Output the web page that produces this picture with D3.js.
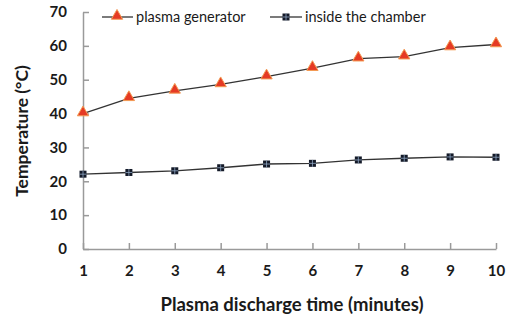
<!DOCTYPE html>
<html>
<head>
<meta charset="utf-8">
<script src="https://cdn.jsdelivr.net/npm/d3@7"></script>
<style>
body{margin:0;background:#fff;}
text{font-family:Lato,"Open Sans",sans-serif;fill:#1a1a1a;}
.tick text{font-weight:bold;font-size:15px;}
.axis path,.axis line{stroke:#9a9a9a;stroke-width:1.5;}
</style>
</head>
<body>
<svg id="chart" width="507" height="319"></svg>
<script>
var minutes = [1,2,3,4,5,6,7,8,9,10]
var plasmaGenerator = [40.0,44.5,46.7,48.6,50.9,53.4,56.2,56.8,59.5,60.4]
var insideChamber = [22.1,22.6,23.1,24.0,25.1,25.3,26.3,26.8,27.2,27.1]
var yTicks = [0,10,20,30,40,50,60,70]
var seriesNames = ["plasma generator","inside the chamber"]

var svg = d3.select("#chart")
var xScale = d3.scaleLinear().domain([1,10]).range([83,496])
var yScale = d3.scaleLinear().domain([0,70]).range([249,12])

// axes, ticks pointing into the plot
var xAxis = d3.axisBottom(xScale).tickValues(minutes).tickSizeInner(-6).tickSizeOuter(0).tickPadding(16)
svg.append("g").attr("class","axis").attr("transform","translate(0,249)").call(xAxis)

var yAxis = d3.axisLeft(yScale).tickValues(yTicks).tickSizeInner(-6).tickSizeOuter(0).tickPadding(16)
svg.append("g").attr("class","axis").attr("transform","translate(83,0)").call(yAxis)

svg.selectAll(".axis .tick text").style("font-family","Lato,sans-serif")

var line = d3.line().x(function(d,i){return xScale(minutes[i])}).y(function(d){return yScale(d)})

function drawLine(data){
    svg.append("path").datum(data).attr("d",line)
        .attr("fill","none").attr("stroke","#333").attr("stroke-width",1.3)
}
drawLine(plasmaGenerator)
drawLine(insideChamber)

var tri = d3.symbol().type(d3.symbolTriangle).size(55)
function triangle(g,x,y){
    g.append("path").attr("d",tri).attr("transform","translate("+x+","+(y-1)+")")
        .attr("fill","#e53a24").attr("stroke","#f39a52").attr("stroke-width",1)
}
function square(g,x,y){
    g.append("rect").attr("x",x-3.5).attr("y",y-3.5).attr("width",7).attr("height",7)
        .attr("fill","#141a28")
    g.append("line").attr("x1",x-3.5).attr("x2",x+3.5).attr("y1",y).attr("y2",y)
        .attr("stroke","#8fa7c4").attr("stroke-width",0.8)
    g.append("line").attr("x1",x).attr("x2",x).attr("y1",y-3.5).attr("y2",y+3.5)
        .attr("stroke","#8fa7c4").attr("stroke-width",0.8)
}

var marks = svg.append("g")
plasmaGenerator.forEach(function(d,i){ triangle(marks,xScale(minutes[i]),yScale(d)) })
insideChamber.forEach(function(d,i){ square(marks,xScale(minutes[i]),yScale(d)) })

// legend
var lg = svg.append("g")
lg.append("line").attr("x1",102).attr("x2",133).attr("y1",17).attr("y2",17).attr("stroke","#333").attr("stroke-width",1.3)
triangle(lg,117,17)
lg.append("text").text(seriesNames[0]).attr("x",136).attr("y",22).style("font-size","14.5px")
lg.append("line").attr("x1",270).attr("x2",302).attr("y1",17).attr("y2",17).attr("stroke","#333").attr("stroke-width",1.3)
square(lg,286,17)
lg.append("text").text(seriesNames[1]).attr("x",305).attr("y",22).style("font-size","14.5px")

// titles
svg.append("text").text("Plasma discharge time (minutes)")
    .attr("x",292).attr("y",311).attr("text-anchor","middle")
    .style("font-weight","bold").style("font-size","18.5px")
svg.append("text").text("Temperature (°C)")
    .attr("transform","translate(28,131) rotate(-90)").attr("text-anchor","middle")
    .style("font-weight","bold").style("font-size","17.5px")
</script>
</body>
</html>
